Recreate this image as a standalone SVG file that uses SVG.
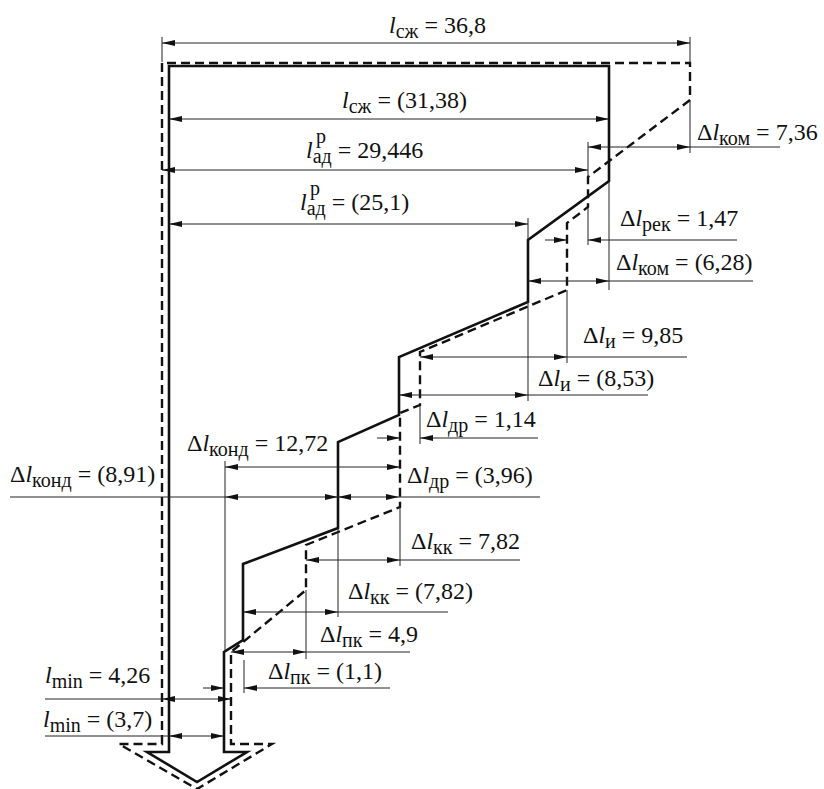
<svg xmlns="http://www.w3.org/2000/svg" width="824" height="789" viewBox="0 0 824 789">
<style>
.solid{fill:none;stroke:#111;stroke-width:2.6;stroke-linejoin:miter}
.dash{fill:none;stroke:#111;stroke-width:2.4;stroke-dasharray:9 5}
.thin{fill:none;stroke:#222;stroke-width:1}
.dim{fill:none;stroke:#222;stroke-width:1;marker-start:url(#ar);marker-end:url(#ar)}
.one{fill:none;stroke:#222;stroke-width:1;marker-end:url(#ar)}
</style>
<defs>
<marker id="ar" viewBox="0 0 13 6" refX="13" refY="3" markerWidth="13" markerHeight="6" markerUnits="userSpaceOnUse" orient="auto-start-reverse">
<path d="M0,0 L13,3 L0,6 z" fill="#111"/>
</marker>
</defs>
<rect width="824" height="789" fill="#fff"/>
<g id="outline-solid">
<path class="solid" d="M169,752 V66 H609 V181 L528,240 V302 L399,357 V415 L338,442 V528 L243,564 V640 L224,652 V752 H247 L197,782 L147,752 Z"/>
</g>
<g id="outline-dashed">
<path class="dash" d="M162,744 V63 H690 V100 L588,177 V207 L567,223 V290 L420,352 V405 L400,413 V507 L306,545 V590 L231,652 V744 H272 L197,789 L119,744 Z"/>
</g>
<g id="connectors">
<path class="thin" d="M162,37 V62 M690,37 V63 M588,142 V177 M690,100 V153 M528,218 V240 M588,207 V245 M609,181 V290 M567,290 V363 M528,302 V401 M420,405 V444 M225,461 V652 M400,507 V566 M338,528 V617 M306,590 V659 M244,660 V693"/>
<path class="dim" d="M162,43 H690"/>
<path class="dim" d="M169,119 H609"/>
<path class="dim" d="M162,170 H588"/>
<path class="dim" d="M588,147 H690"/><path class="thin" d="M690,147 H780"/>
<path class="dim" d="M169,224 H528"/>
<path class="one" d="M545,240 H567"/><path class="one" d="M737,240 H588"/>
<path class="dim" d="M528,281 H609"/><path class="thin" d="M609,281 H753"/>
<path class="dim" d="M420,357 H567"/><path class="thin" d="M567,357 H687"/>
<path class="dim" d="M399,395 H528"/><path class="thin" d="M528,395 H648"/>
<path class="one" d="M377,438 H400"/><path class="one" d="M538,438 H420"/>
<path class="dim" d="M225,467 H400"/>
<path class="thin" d="M10,497 H225 M399,497 H540"/>
<path class="dim" d="M225,497 H338"/><path class="dim" d="M338,497 H399"/>
<path class="dim" d="M306,560 H400"/><path class="thin" d="M400,560 H520"/>
<path class="dim" d="M243,612 H338"/><path class="thin" d="M338,612 H448"/>
<path class="dim" d="M231,652 H306"/><path class="thin" d="M306,652 H410"/>
<path class="one" d="M203,688 H224"/><path class="one" d="M390,688 H244"/>
<path class="thin" d="M45,699 H162"/><path class="dim" d="M162,699 H231"/>
<path class="thin" d="M45,736 H169"/><path class="dim" d="M169,736 H224"/>
</g>
<g id="labels" font-family="Liberation Serif" font-size="24" fill="#111">
<g id="label-lszh-36-8"><text font-family="Liberation Serif" font-size="24" x="389" y="33"><tspan font-style="italic">l</tspan><tspan font-size="20" dy="5">сж</tspan><tspan dy="-5"> = 36,8</tspan></text></g>
<g id="label-lszh-31-38"><text font-family="Liberation Serif" font-size="24" x="342" y="108"><tspan font-style="italic">l</tspan><tspan font-size="20" dy="5">сж</tspan><tspan dy="-5"> = (31,38)</tspan></text></g>
<g id="label-lad-29-446"><text font-family="Liberation Serif" font-size="24" x="306" y="158"><tspan font-style="italic">l</tspan><tspan font-size="20" dy="5">ад</tspan><tspan dy="-5"> = 29,446</tspan></text><text font-family="Liberation Serif" font-size="20" x="316" y="143">р</text></g>
<g id="label-lad-25-1"><text font-family="Liberation Serif" font-size="24" x="300" y="210"><tspan font-style="italic">l</tspan><tspan font-size="20" dy="5">ад</tspan><tspan dy="-5"> = (25,1)</tspan></text><text font-family="Liberation Serif" font-size="20" x="310" y="195">р</text></g>
<g id="label-dlkom-7-36"><text font-family="Liberation Serif" font-size="24" x="697" y="140">Δ<tspan font-style="italic">l</tspan><tspan font-size="20" dy="5">ком</tspan><tspan dy="-5"> = 7,36</tspan></text></g>
<g id="label-dlrek-1-47"><text font-family="Liberation Serif" font-size="24" x="620" y="226">Δ<tspan font-style="italic">l</tspan><tspan font-size="20" dy="5">рек</tspan><tspan dy="-5"> = 1,47</tspan></text></g>
<g id="label-dlkom-6-28"><text font-family="Liberation Serif" font-size="24" x="616" y="270">Δ<tspan font-style="italic">l</tspan><tspan font-size="20" dy="5">ком</tspan><tspan dy="-5"> = (6,28)</tspan></text></g>
<g id="label-dli-9-85"><text font-family="Liberation Serif" font-size="24" x="583" y="343">Δ<tspan font-style="italic">l</tspan><tspan font-size="20" dy="5">и</tspan><tspan dy="-5"> = 9,85</tspan></text></g>
<g id="label-dli-8-53"><text font-family="Liberation Serif" font-size="24" x="538" y="386">Δ<tspan font-style="italic">l</tspan><tspan font-size="20" dy="5">и</tspan><tspan dy="-5"> = (8,53)</tspan></text></g>
<g id="label-dldr-1-14"><text font-family="Liberation Serif" font-size="24" x="426" y="427">Δ<tspan font-style="italic">l</tspan><tspan font-size="20" dy="5">др</tspan><tspan dy="-5"> = 1,14</tspan></text></g>
<g id="label-dlkond-12-72"><text font-family="Liberation Serif" font-size="24" x="187" y="451">Δ<tspan font-style="italic">l</tspan><tspan font-size="20" dy="5">конд</tspan><tspan dy="-5"> = 12,72</tspan></text></g>
<g id="label-dlkond-8-91"><text font-family="Liberation Serif" font-size="24" x="10" y="482">Δ<tspan font-style="italic">l</tspan><tspan font-size="20" dy="5">конд</tspan><tspan dy="-5"> = (8,91)</tspan></text></g>
<g id="label-dldr-3-96"><text font-family="Liberation Serif" font-size="24" x="407" y="483">Δ<tspan font-style="italic">l</tspan><tspan font-size="20" dy="5">др</tspan><tspan dy="-5"> = (3,96)</tspan></text></g>
<g id="label-dlkk-7-82"><text font-family="Liberation Serif" font-size="24" x="411" y="549">Δ<tspan font-style="italic">l</tspan><tspan font-size="20" dy="5">кк</tspan><tspan dy="-5"> = 7,82</tspan></text></g>
<g id="label-dlkk-7-82b"><text font-family="Liberation Serif" font-size="24" x="348" y="599">Δ<tspan font-style="italic">l</tspan><tspan font-size="20" dy="5">кк</tspan><tspan dy="-5"> = (7,82)</tspan></text></g>
<g id="label-dlpk-4-9"><text font-family="Liberation Serif" font-size="24" x="320" y="642">Δ<tspan font-style="italic">l</tspan><tspan font-size="20" dy="5">пк</tspan><tspan dy="-5"> = 4,9</tspan></text></g>
<g id="label-dlpk-1-1"><text font-family="Liberation Serif" font-size="24" x="268" y="679">Δ<tspan font-style="italic">l</tspan><tspan font-size="20" dy="5">пк</tspan><tspan dy="-5"> = (1,1)</tspan></text></g>
<g id="label-lmin-4-26"><text font-family="Liberation Serif" font-size="24" x="45" y="683"><tspan font-style="italic">l</tspan><tspan font-size="20" dy="5">min</tspan><tspan dy="-5"> = 4,26</tspan></text></g>
<g id="label-lmin-3-7"><text font-family="Liberation Serif" font-size="24" x="43" y="727"><tspan font-style="italic">l</tspan><tspan font-size="20" dy="5">min</tspan><tspan dy="-5"> = (3,7)</tspan></text></g>
</g>
</svg>
